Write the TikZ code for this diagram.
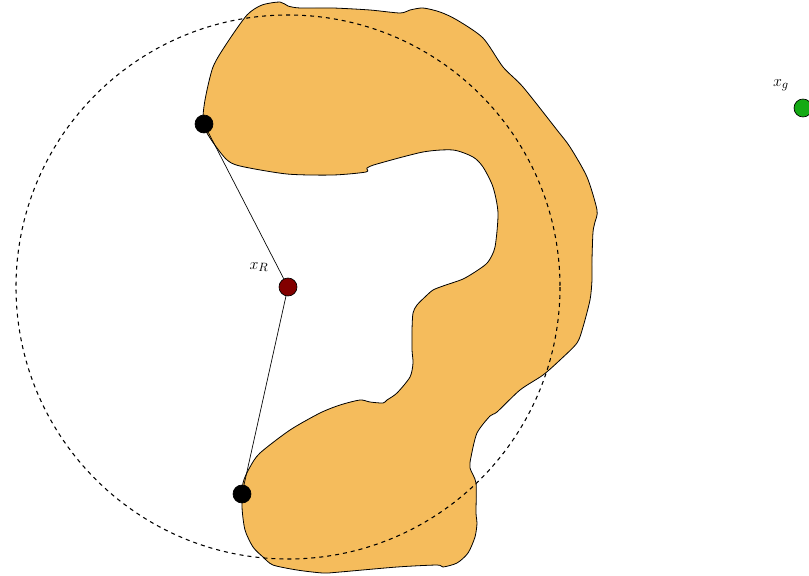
\documentclass[tikz,border=0pt]{standalone}
\definecolor{blob}{RGB}{245,188,92}
\definecolor{rnode}{RGB}{130,0,0}
\definecolor{gnode}{RGB}{20,170,20}
\tikzset{
  pt/.style={circle,draw=black,inner sep=0pt,minimum size=13.5pt,line width=0.5pt},
  lbl/.style={inner sep=0pt,font=\fontsize{13}{15}\selectfont},
}
\begin{document}
\begin{tikzpicture}[x=0.75pt,y=-0.75pt]
\useasboundingbox (0,0) rectangle (809,575);
% obstacle
\draw[fill=blob,line width=0.6pt] plot[smooth cycle,tension=0.45] coordinates {
(247,15) (262,5) (280,2) (288,6) (300,8) (333,8) (370,10) (400,13) (410,10) (423,8)
(440,12) (457,20) (483,38) (503,67) (523,87) (557,130) (570,147) (587,177) (597,210)
(595,222) (593,232) (592,260) (592,280) (590,300) (583,327) (577,343) (560,360)
(543,375) (520,390) (497,412) (490,416) (477,433) (471,457) (470,468) (476,483)
(476,513) (477,523) (475,537) (468,553) (457,563) (443,567) (437,565) (397,567)
(340,572) (323,573) (297,570) (273,565) (263,557) (253,547) (245,530) (242,507)
(243,483) (250,467) (260,453) (290,430) (320,413) (340,405) (360,400) (370,402)
(383,403) (387,400) (397,393) (410,377) (413,363) (412,350) (412,330) (413,313)
(417,305) (426,296) (433,290) (443,286) (463,279) (478,270) (488,262) (495,247)
(498,213) (493,187) (483,167) (473,157) (453,150) (423,152) (377,164) (367,168)
(366,172) (333,175) (287,174) (240,166) (226,159) (210,138) (203,123) (205,100)
(213,67) (227,43)
};
% nodes
\node[pt,fill=rnode] (xr) at (288,287) {};
\node[pt,fill=black] (a) at (204,124) {};
\node[pt,fill=black] (b) at (242,494) {};
\node[pt,fill=gnode] (xg) at (803,108) {};
\node[lbl] (lr) at (259,267) {$x_R$};
\node[lbl] (lg) at (781,85) {$x_g$};
% circle
\draw[dashed,line width=0.8pt] (xr.center) circle[radius=272];
% connectors
\draw[line width=0.5pt] (a) -- (xr);
\draw[line width=0.5pt] (xr) -- (b);
\end{tikzpicture}
\end{document}
